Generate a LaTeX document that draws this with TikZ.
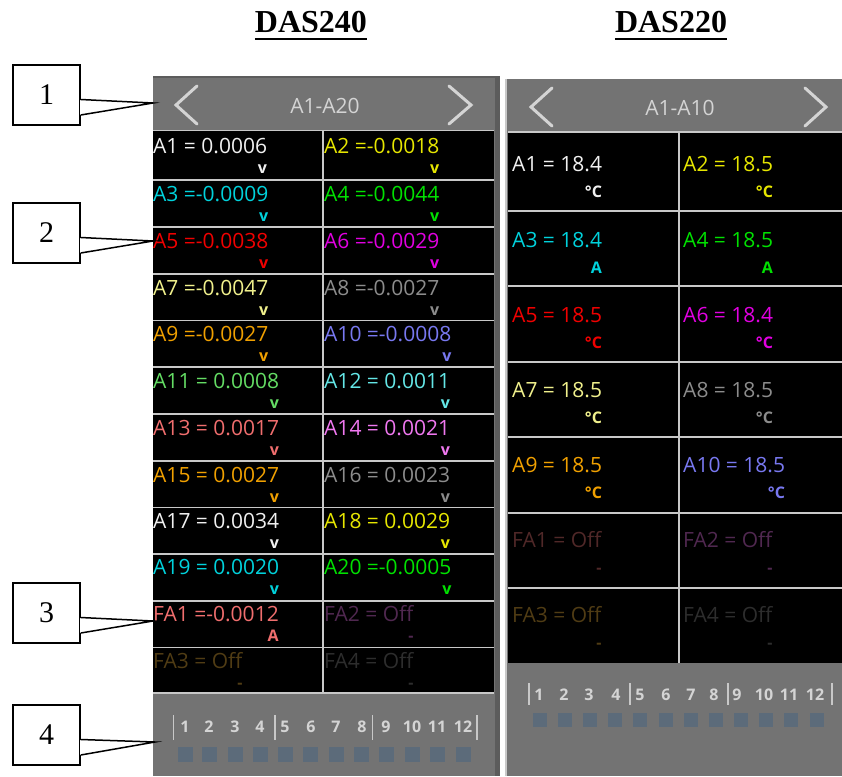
\documentclass[tikz,border=0pt]{standalone}
\usepackage{fontspec}
\setmainfont{Liberation Serif}
\newfontfamily\uifont{Open Sans}
\usetikzlibrary{positioning}

\begin{document}
\begin{tikzpicture}[x=1pt, y=-1pt,
  title/.style={font=\bfseries\fontsize{32}{36}\selectfont, inner sep=0pt, anchor=base},
  hdr/.style={font=\uifont\fontsize{21}{24}\selectfont, text=hdrtext, inner sep=0pt, anchor=base},
  chev/.style={draw=hdrtext, line width=3pt, line cap=round},
  grid/.style={draw=gridgray, line width=1.5pt},
  val/.style={font=\uifont\fontsize{21}{24}\selectfont, inner sep=0pt, anchor=base west},
  unit/.style={font=\uifont\bfseries\fontsize{16}{18}\selectfont, inner sep=0pt, anchor=base east},
  tabnum/.style={font=\uifont\bfseries\fontsize{16}{18}\selectfont, text=hdrtext, inner sep=0pt, anchor=base},
  callbox/.style={draw, fill=white, line width=1.5pt, minimum width=67pt, minimum height=60pt, inner sep=0pt, font=\fontsize{30}{32}\selectfont},
  callptr/.style={draw, line width=1.5pt}]

% Colors
\definecolor{panelgray}{RGB}{115,115,115} % panel
\definecolor{framegray}{RGB}{92,92,92}    % frame
\definecolor{gridgray}{RGB}{200,200,200}  % grid lines
\definecolor{hdrtext}{RGB}{212,212,212}   % header text
\definecolor{ledgray}{RGB}{92,107,122}    % leds
\definecolor{chwhite}{RGB}{240,240,240}
\definecolor{chyellow}{RGB}{230,230,0}
\definecolor{chcyan}{RGB}{0,210,220}
\definecolor{chgreen}{RGB}{0,225,0}
\definecolor{chred}{RGB}{240,0,0}
\definecolor{chmagenta}{RGB}{225,0,225}
\definecolor{chlemon}{RGB}{240,240,140}
\definecolor{chgray}{RGB}{140,140,140}
\definecolor{chorange}{RGB}{240,160,0}
\definecolor{chslate}{RGB}{120,120,240}
\definecolor{chmint}{RGB}{100,220,100}
\definecolor{chaqua}{RGB}{100,230,230}
\definecolor{chsalmon}{RGB}{240,110,110}
\definecolor{chviolet}{RGB}{240,120,240}
\definecolor{offred}{RGB}{80,40,40}
\definecolor{offpurple}{RGB}{80,40,80}
\definecolor{offbrown}{RGB}{80,60,20}
\definecolor{offgray}{RGB}{45,45,45}

\useasboundingbox (0,0) rectangle (842,776);

% === TITLES ===
\node[title] (t240) at (311,33) {DAS240};
\draw[line width=2.6pt] ([yshift=-6pt]t240.base west) -- ([yshift=-6pt]t240.base east);
\node[title] (t220) at (671,33) {DAS220};
\draw[line width=2.6pt] ([yshift=-6pt]t220.base west) -- ([yshift=-6pt]t220.base east);

% === DAS240 PANEL ===
\fill[framegray] (153,76) rectangle (500,776);
\fill[panelgray] (153,78) rectangle (495,776);
\fill[black] (153,131) rectangle (494,693);

\node[hdr] (L-hdr) at (325,113) {A1-A20};
\draw[chev] (197,86) -- (176,105) -- (197,124);
\draw[chev] (449,86) -- (471,105) -- (449,124);

\draw[grid] (153,130.5) -- (494,130.5);
\draw[grid] (153,180) -- (494,180);
\draw[grid] (153,227) -- (494,227);
\draw[grid] (153,274) -- (494,274);
\draw[grid] (153,320.5) -- (494,320.5);
\draw[grid] (153,367) -- (494,367);
\draw[grid] (153,414) -- (494,414);
\draw[grid] (153,461) -- (494,461);
\draw[grid] (153,507.5) -- (494,507.5);
\draw[grid] (153,554) -- (494,554);
\draw[grid] (153,601) -- (494,601);
\draw[grid] (153,647.5) -- (494,647.5);
\draw[grid] (153,693) -- (494,693);
\draw[grid] (323,130.5) -- (323,693);

\node[val, text=chwhite] (LA1) at (153,153) {A1 = 0.0006};
\node[unit, text=chwhite] (LA1u) at ([yshift=-20pt]LA1.base east) {v};
\node[val, text=chyellow] (LA2) at (324,153) {A2 =-0.0018};
\node[unit, text=chyellow] (LA2u) at ([yshift=-20pt]LA2.base east) {v};

\node[val, text=chcyan] (LA3) at (153,201) {A3 =-0.0009};
\node[unit, text=chcyan] (LA3u) at ([yshift=-20pt]LA3.base east) {v};
\node[val, text=chgreen] (LA4) at (324,201) {A4 =-0.0044};
\node[unit, text=chgreen] (LA4u) at ([yshift=-20pt]LA4.base east) {v};

\node[val, text=chred] (LA5) at (153,248) {A5 =-0.0038};
\node[unit, text=chred] (LA5u) at ([yshift=-20pt]LA5.base east) {v};
\node[val, text=chmagenta] (LA6) at (324,248) {A6 =-0.0029};
\node[unit, text=chmagenta] (LA6u) at ([yshift=-20pt]LA6.base east) {v};

\node[val, text=chlemon] (LA7) at (153,295) {A7 =-0.0047};
\node[unit, text=chlemon] (LA7u) at ([yshift=-20pt]LA7.base east) {v};
\node[val, text=chgray] (LA8) at (324,295) {A8 =-0.0027};
\node[unit, text=chgray] (LA8u) at ([yshift=-20pt]LA8.base east) {v};

\node[val, text=chorange] (LA9) at (153,341) {A9 =-0.0027};
\node[unit, text=chorange] (LA9u) at ([yshift=-20pt]LA9.base east) {v};
\node[val, text=chslate] (LA10) at (324,341) {A10 =-0.0008};
\node[unit, text=chslate] (LA10u) at ([yshift=-20pt]LA10.base east) {v};

\node[val, text=chmint] (LA11) at (153,388) {A11 = 0.0008};
\node[unit, text=chmint] (LA11u) at ([yshift=-20pt]LA11.base east) {v};
\node[val, text=chaqua] (LA12) at (324,388) {A12 = 0.0011};
\node[unit, text=chaqua] (LA12u) at ([yshift=-20pt]LA12.base east) {v};

\node[val, text=chsalmon] (LA13) at (153,435) {A13 = 0.0017};
\node[unit, text=chsalmon] (LA13u) at ([yshift=-20pt]LA13.base east) {v};
\node[val, text=chviolet] (LA14) at (324,435) {A14 = 0.0021};
\node[unit, text=chviolet] (LA14u) at ([yshift=-20pt]LA14.base east) {v};

\node[val, text=chorange] (LA15) at (153,482) {A15 = 0.0027};
\node[unit, text=chorange] (LA15u) at ([yshift=-20pt]LA15.base east) {v};
\node[val, text=chgray] (LA16) at (324,482) {A16 = 0.0023};
\node[unit, text=chgray] (LA16u) at ([yshift=-20pt]LA16.base east) {v};

\node[val, text=chwhite] (LA17) at (153,528) {A17 = 0.0034};
\node[unit, text=chwhite] (LA17u) at ([yshift=-20pt]LA17.base east) {v};
\node[val, text=chyellow] (LA18) at (324,528) {A18 = 0.0029};
\node[unit, text=chyellow] (LA18u) at ([yshift=-20pt]LA18.base east) {v};

\node[val, text=chcyan] (LA19) at (153,574) {A19 = 0.0020};
\node[unit, text=chcyan] (LA19u) at ([yshift=-20pt]LA19.base east) {v};
\node[val, text=chgreen] (LA20) at (324,574) {A20 =-0.0005};
\node[unit, text=chgreen] (LA20u) at ([yshift=-20pt]LA20.base east) {v};

\node[val, text=chsalmon] (LFA1) at (153,621) {FA1 =-0.0012};
\node[unit, text=chsalmon] (LFA1u) at ([yshift=-20pt]LFA1.base east) {A};
\node[val, text=offpurple] (LFA2) at (324,621) {FA2 = Off};
\node[unit, text=offpurple] (LFA2u) at ([yshift=-20pt]LFA2.base east) {-};

\node[val, text=offbrown] (LFA3) at (153,668) {FA3 = Off};
\node[unit, text=offbrown] (LFA3u) at ([yshift=-20pt]LFA3.base east) {-};
\node[val, text=offgray] (LFA4) at (324,668) {FA4 = Off};
\node[unit, text=offgray] (LFA4u) at ([yshift=-20pt]LFA4.base east) {-};

% relay strip
\draw[grid] (173.5,715) -- (173.5,740);
\draw[grid] (275,715) -- (275,740);
\draw[grid] (372.5,715) -- (372.5,740);
\draw[grid] (477,715) -- (477,740);
\node[tabnum] (Ln1) at (185,732) {1};
\node[tabnum] (Ln2) at (209,732) {2};
\node[tabnum] (Ln3) at (235,732) {3};
\node[tabnum] (Ln4) at (260,732) {4};
\node[tabnum] (Ln5) at (285,732) {5};
\node[tabnum] (Ln6) at (311,732) {6};
\node[tabnum] (Ln7) at (336,732) {7};
\node[tabnum] (Ln8) at (362,732) {8};
\node[tabnum] (Ln9) at (386,732) {9};
\node[tabnum] (Ln10) at (412,732) {10};
\node[tabnum] (Ln11) at (437,732) {11};
\node[tabnum] (Ln12) at (463,732) {12};
\fill[ledgray] (178,747) rectangle ++(15,15);
\fill[ledgray] (202,747) rectangle ++(15,15);
\fill[ledgray] (228,747) rectangle ++(15,15);
\fill[ledgray] (253,747) rectangle ++(15,15);
\fill[ledgray] (278,747) rectangle ++(15,15);
\fill[ledgray] (303,747) rectangle ++(15,15);
\fill[ledgray] (329,747) rectangle ++(15,15);
\fill[ledgray] (354,747) rectangle ++(15,15);
\fill[ledgray] (379,747) rectangle ++(15,15);
\fill[ledgray] (405,747) rectangle ++(15,15);
\fill[ledgray] (430,747) rectangle ++(15,15);
\fill[ledgray] (456,747) rectangle ++(15,15);

% === DAS220 PANEL ===
\fill[panelgray] (505,79) rectangle (842,776);
\draw[grid] (506,79) -- (506,776);
\fill[black] (508,133) rectangle (842,663);

\node[hdr] (R-hdr) at (680,115) {A1-A10};
\draw[chev] (552,88) -- (531,107) -- (552,126);
\draw[chev] (805,88) -- (826,107) -- (805,126);

\draw[grid] (508,132) -- (842,132);
\draw[grid] (508,211) -- (842,211);
\draw[grid] (508,286) -- (842,286);
\draw[grid] (508,362) -- (842,362);
\draw[grid] (508,437) -- (842,437);
\draw[grid] (508,513) -- (842,513);
\draw[grid] (508,588) -- (842,588);
\draw[grid] (679,132) -- (679,663);

\node[val, text=chwhite] (RA1) at (512,171) {A1 = 18.4};
\node[unit, text=chwhite] (RA1u) at ([yshift=-26pt]RA1.base east) {°C};
\node[val, text=chyellow] (RA2) at (683,171) {A2 = 18.5};
\node[unit, text=chyellow] (RA2u) at ([yshift=-26pt]RA2.base east) {°C};

\node[val, text=chcyan] (RA3) at (512,247) {A3 = 18.4};
\node[unit, text=chcyan] (RA3u) at ([yshift=-26pt]RA3.base east) {A};
\node[val, text=chgreen] (RA4) at (683,247) {A4 = 18.5};
\node[unit, text=chgreen] (RA4u) at ([yshift=-26pt]RA4.base east) {A};

\node[val, text=chred] (RA5) at (512,322) {A5 = 18.5};
\node[unit, text=chred] (RA5u) at ([yshift=-26pt]RA5.base east) {°C};
\node[val, text=chmagenta] (RA6) at (683,322) {A6 = 18.4};
\node[unit, text=chmagenta] (RA6u) at ([yshift=-26pt]RA6.base east) {°C};

\node[val, text=chlemon] (RA7) at (512,397) {A7 = 18.5};
\node[unit, text=chlemon] (RA7u) at ([yshift=-26pt]RA7.base east) {°C};
\node[val, text=chgray] (RA8) at (683,397) {A8 = 18.5};
\node[unit, text=chgray] (RA8u) at ([yshift=-26pt]RA8.base east) {°C};

\node[val, text=chorange] (RA9) at (512,472) {A9 = 18.5};
\node[unit, text=chorange] (RA9u) at ([yshift=-26pt]RA9.base east) {°C};
\node[val, text=chslate] (RA10) at (683,472) {A10 = 18.5};
\node[unit, text=chslate] (RA10u) at ([yshift=-26pt]RA10.base east) {°C};

\node[val, text=offred] (RFA1) at (512,547) {FA1 = Off};
\node[unit, text=offred] (RFA1u) at ([yshift=-26pt]RFA1.base east) {-};
\node[val, text=offpurple] (RFA2) at (683,547) {FA2 = Off};
\node[unit, text=offpurple] (RFA2u) at ([yshift=-26pt]RFA2.base east) {-};

\node[val, text=offbrown] (RFA3) at (512,622) {FA3 = Off};
\node[unit, text=offbrown] (RFA3u) at ([yshift=-26pt]RFA3.base east) {-};
\node[val, text=offgray] (RFA4) at (683,622) {FA4 = Off};
\node[unit, text=offgray] (RFA4u) at ([yshift=-26pt]RFA4.base east) {-};

% relay strip
\draw[grid] (529,683) -- (529,705);
\draw[grid] (630,683) -- (630,705);
\draw[grid] (728,683) -- (728,705);
\draw[grid] (832,683) -- (832,705);
\node[tabnum] (Rn1) at (539,700) {1};
\node[tabnum] (Rn2) at (564,700) {2};
\node[tabnum] (Rn3) at (589,700) {3};
\node[tabnum] (Rn4) at (616,700) {4};
\node[tabnum] (Rn5) at (640,700) {5};
\node[tabnum] (Rn6) at (666,700) {6};
\node[tabnum] (Rn7) at (691,700) {7};
\node[tabnum] (Rn8) at (714,700) {8};
\node[tabnum] (Rn9) at (737,700) {9};
\node[tabnum] (Rn10) at (764,700) {10};
\node[tabnum] (Rn11) at (789,700) {11};
\node[tabnum] (Rn12) at (815,700) {12};
\fill[ledgray] (533,713) rectangle ++(14,14);
\fill[ledgray] (558,713) rectangle ++(14,14);
\fill[ledgray] (583,713) rectangle ++(14,14);
\fill[ledgray] (608,713) rectangle ++(14,14);
\fill[ledgray] (633,713) rectangle ++(14,14);
\fill[ledgray] (659,713) rectangle ++(14,14);
\fill[ledgray] (684,713) rectangle ++(14,14);
\fill[ledgray] (709,713) rectangle ++(14,14);
\fill[ledgray] (734,713) rectangle ++(14,14);
\fill[ledgray] (759,713) rectangle ++(14,14);
\fill[ledgray] (784,713) rectangle ++(14,14);
\fill[ledgray] (810,713) rectangle ++(14,14);

% === CALLOUTS ===
\node[callbox] (c1) at (46.5,95) {1};
\coordinate (p1) at (153,103);
\fill[white] ([xshift=-1pt,yshift=-4.5pt]c1.east) rectangle ([xshift=1pt,yshift=-20pt]c1.east);
\draw[callptr] ([yshift=-4.5pt]c1.east) -- (p1) -- ([yshift=-20pt]c1.east);

\node[callbox] (c2) at (46.5,233) {2};
\coordinate (p2) at (153,241);
\fill[white] ([xshift=-1pt,yshift=-4.5pt]c2.east) rectangle ([xshift=1pt,yshift=-20pt]c2.east);
\draw[callptr] ([yshift=-4.5pt]c2.east) -- (p2) -- ([yshift=-20pt]c2.east);

\node[callbox] (c3) at (46.5,613) {3};
\coordinate (p3) at (153,621);
\fill[white] ([xshift=-1pt,yshift=-4.5pt]c3.east) rectangle ([xshift=1pt,yshift=-20pt]c3.east);
\draw[callptr] ([yshift=-4.5pt]c3.east) -- (p3) -- ([yshift=-20pt]c3.east);

\node[callbox] (c4) at (46.5,735) {4};
\coordinate (p4) at (155,742);
\fill[white] ([xshift=-1pt,yshift=-4.5pt]c4.east) rectangle ([xshift=1pt,yshift=-20pt]c4.east);
\draw[callptr] ([yshift=-4.5pt]c4.east) -- (p4) -- ([yshift=-20pt]c4.east);

\end{tikzpicture}
\end{document}
